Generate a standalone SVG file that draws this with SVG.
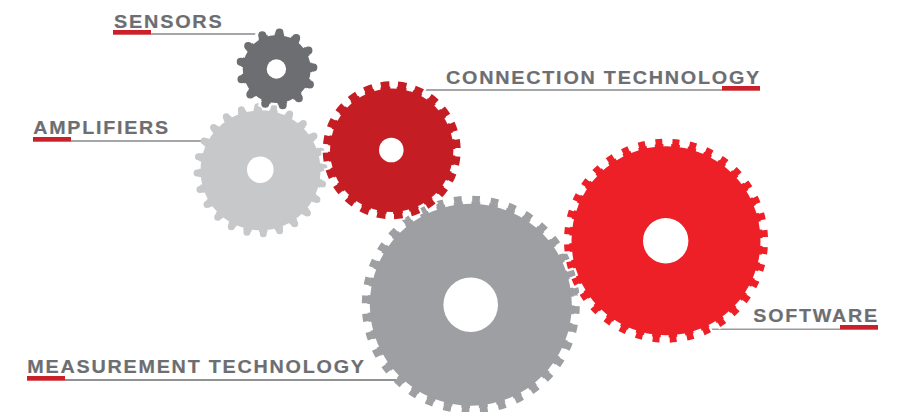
<svg xmlns="http://www.w3.org/2000/svg" width="906" height="412" viewBox="0 0 906 412">
<style>
.bg{fill:#fff}
.hole{fill:#fff}
.ring{fill:none}
.halo{fill:none;stroke:#fff}
.dot{fill:none;stroke-linecap:round}
.label{font-family:"Liberation Sans",Arial,sans-serif;font-weight:700;font-size:19px;letter-spacing:1.7px;fill:#6d6e71;stroke:#6d6e71;stroke-width:.2}
.bar{fill:#c9202a}
.lead{stroke:#87888b;stroke-width:1.4;fill:none}
</style>
<rect class="bg" width="906" height="412"/>
<g id="connectors">
<line class="lead" x1="151" y1="34" x2="262" y2="34"/>
<line class="lead" x1="71" y1="141" x2="202" y2="141"/>
<line class="lead" x1="420" y1="90" x2="722" y2="90"/>
<line class="lead" x1="65" y1="380" x2="396" y2="380" style="stroke:#6d6e71"/>
<line class="lead" x1="708" y1="329.3" x2="840" y2="329.3" style="stroke:#999a9d"/>
<rect class="bar" x="113" y="30" width="38" height="4.7"/>
<rect class="bar" x="33" y="137" width="38" height="4.7"/>
<rect class="bar" x="722" y="86" width="38" height="4.7"/>
<rect class="bar" x="27" y="376" width="38" height="4.7"/>
<rect class="bar" x="840" y="325" width="38" height="4.7"/>
</g>
<g id="amplifiers">
<circle cx="260.5" cy="170.3" r="60" fill="#c7c8ca"/>
<circle class="ring" cx="260.5" cy="170.3" r="60" pathLength="360" stroke="#c7c8ca" stroke-width="4" stroke-dasharray="8 7" stroke-dashoffset="6.6"/>
<circle class="ring" cx="260.5" cy="170.3" r="61.75" pathLength="360" stroke="#c7c8ca" stroke-width="3.5" stroke-dasharray="6.4 8.6" stroke-dashoffset="5.8"/>
<circle class="dot" cx="260.5" cy="170.3" r="63.5" pathLength="360" stroke="#c7c8ca" stroke-width="7" stroke-dasharray="0 15" stroke-dashoffset="2.6"/>
<circle class="hole" cx="260.3" cy="169.7" r="13.3"/>
<text class="label" x="33.3" y="134.3" textLength="136.5" lengthAdjust="spacingAndGlyphs">AMPLIFIERS</text>
</g>
<g id="sensors">
<circle cx="276.7" cy="69" r="36.5" fill="#fff"/>
<circle class="halo" cx="276.7" cy="69" r="38" pathLength="360" stroke-width="7" stroke-dasharray="18 9.692" stroke-dashoffset="11.5"/>
<circle cx="276.7" cy="69" r="34" fill="#6d6e71"/>
<circle class="ring" cx="276.7" cy="69" r="34" pathLength="360" stroke="#6d6e71" stroke-width="3" stroke-dasharray="16 11.692" stroke-dashoffset="10.5"/>
<circle class="ring" cx="276.7" cy="69" r="35.5" pathLength="360" stroke="#6d6e71" stroke-width="3" stroke-dasharray="12.7 14.992" stroke-dashoffset="8.85"/>
<circle class="dot" cx="276.7" cy="69" r="36.7" pathLength="360" stroke="#6d6e71" stroke-width="8" stroke-dasharray="0 27.692" stroke-dashoffset="2.5"/>
<circle class="hole" cx="276.4" cy="69" r="9.7"/>
<text class="label" x="114" y="27.7" textLength="109.5" lengthAdjust="spacingAndGlyphs">SENSORS</text>
</g>
<g id="measurement-technology">
<circle cx="470.8" cy="304.7" r="101" fill="#9d9fa2"/>
<circle class="ring" cx="470.8" cy="304.7" r="101.5" pathLength="360" stroke="#9d9fa2" stroke-width="4" stroke-dasharray="5 5" stroke-dashoffset="-0.4"/>
<circle class="ring" cx="470.8" cy="304.7" r="106" pathLength="360" stroke="#9d9fa2" stroke-width="6" stroke-dasharray="4.2 5.8" stroke-dashoffset="-0.8"/>
<circle class="hole" cx="470.7" cy="304.7" r="27.3"/>
<text class="label" x="27.3" y="373.3" textLength="338.5" lengthAdjust="spacingAndGlyphs">MEASUREMENT TECHNOLOGY</text>
</g>
<g id="connection-technology">
<circle cx="391.7" cy="150.3" r="64" fill="#fff"/>
<circle class="halo" cx="391.7" cy="150.3" r="65.5" pathLength="360" stroke-width="10" stroke-dasharray="11 4" stroke-dashoffset="11.3"/>
<circle cx="391.7" cy="150.3" r="61.7" fill="#c41e24"/>
<circle class="ring" cx="391.7" cy="150.3" r="62" pathLength="360" stroke="#c41e24" stroke-width="3.5" stroke-dasharray="9 6" stroke-dashoffset="10.3"/>
<circle class="ring" cx="391.7" cy="150.3" r="66" pathLength="360" stroke="#c41e24" stroke-width="6" stroke-dasharray="7.5 7.5" stroke-dashoffset="9.55"/>
<circle class="hole" cx="391.3" cy="150" r="12.3"/>
<text class="label" x="446" y="84" textLength="315" lengthAdjust="spacingAndGlyphs">CONNECTION TECHNOLOGY</text>
</g>
<g id="software">
<circle cx="666" cy="240.7" r="96.5" fill="#fff"/>
<circle class="halo" cx="666" cy="240.7" r="98" pathLength="360" stroke-width="11" stroke-dasharray="6.5 3.5" stroke-dashoffset="-2.5"/>
<circle cx="666" cy="240.7" r="94.5" fill="#ed1f27"/>
<circle class="ring" cx="666" cy="240.7" r="95" pathLength="360" stroke="#ed1f27" stroke-width="3.5" stroke-dasharray="5.2 4.8" stroke-dashoffset="-3.2"/>
<circle class="ring" cx="666" cy="240.7" r="99" pathLength="360" stroke="#ed1f27" stroke-width="6" stroke-dasharray="4 6" stroke-dashoffset="-3.8"/>
<circle class="hole" cx="665.7" cy="240.7" r="22.7"/>
<text class="label" x="753.3" y="322.3" textLength="125.5" lengthAdjust="spacingAndGlyphs">SOFTWARE</text>
</g>
</svg>
